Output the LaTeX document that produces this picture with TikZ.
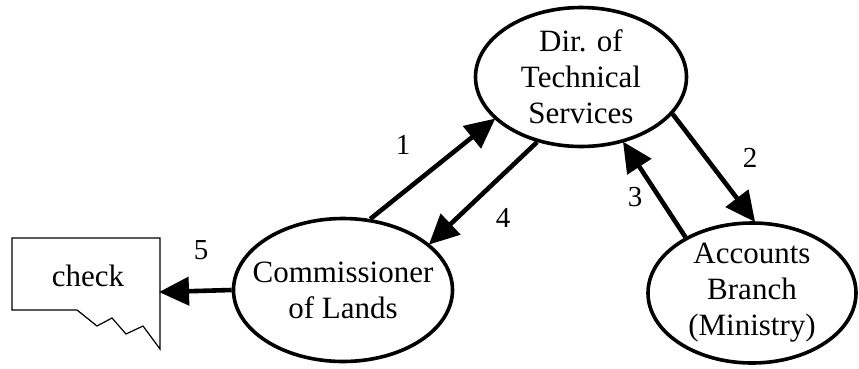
\documentclass[tikz,border=0pt]{standalone}
\usepackage{fontspec}
\setmainfont{Liberation Serif}
\usetikzlibrary{shapes.geometric,arrows.meta}
\begin{document}
\begin{tikzpicture}[x=1pt,y=-1pt,
  oval/.style={ellipse,draw,line width=3.6pt,inner xsep=-60pt,inner ysep=-40pt,align=center,
    font=\fontsize{31}{36}\selectfont},
  flow/.style={line width=4.6pt,-{Triangle[length=30pt,width=28pt]},shorten >=-1pt},
  num/.style={font=\fontsize{29}{34}\selectfont},
  paper/.style={draw,line width=1.2pt,line join=miter}]
\useasboundingbox (0,0) rectangle (859,368);
\node[oval,minimum width=211pt,minimum height=139pt] (dts) at (581,77) {Dir. of\\Technical\\Services};
\node[oval,minimum width=219pt,minimum height=143pt] (comm) at (343,290) {Commissioner\\of Lands};
\node[oval,minimum width=208pt,minimum height=140pt] (acc) at (752,293) {Accounts\\Branch\\(Ministry)};
% check document
\draw[paper] (160,238) -- (12,238) -- (12,310) -- (77,310) -- (97,326) -- (112,318)
  -- (126,334) -- (143,326) -- (160,349) -- cycle;
\node[font=\fontsize{31}{36}\selectfont] (check) at (88,276) {check};
\coordinate (checkR) at (160,292);
% arrows
\draw[flow] (comm.69) -- (dts.206);
\draw[flow] (dts.236) -- (comm.28);
\draw[flow] (dts.338) -- (acc.88);
\draw[flow] (acc.140) -- (dts.303);
\draw[flow] (comm.180) -- (checkR);
% labels
\node[num] (n1) at (403,145) {1};
\node[num] (n2) at (750,158) {2};
\node[num] (n3) at (635,197) {3};
\node[num] (n4) at (503,218) {4};
\node[num] (n5) at (201,250) {5};
\end{tikzpicture}
\end{document}
